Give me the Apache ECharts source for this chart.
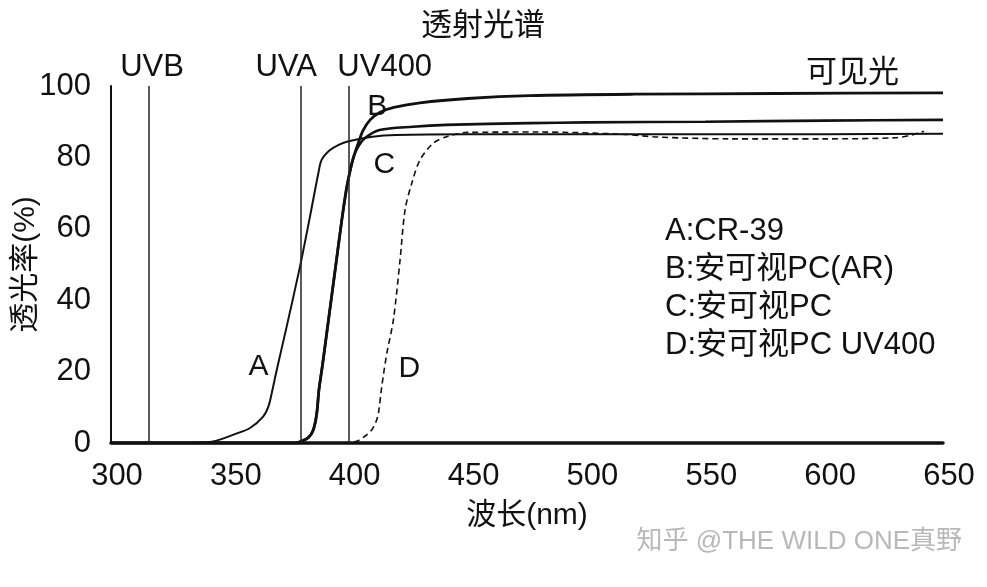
<!DOCTYPE html>
<html>
<head>
<meta charset="utf-8">
<script src="https://cdn.jsdelivr.net/npm/echarts@6/dist/echarts.min.js"></script>
<style>html,body{margin:0;padding:0;background:#fff;}#c{width:987px;height:587px;}</style>
</head>
<body>
<div id="c"></div>
<script>
// ---- data ----
const xTicks = [300, 350, 400, 450, 500, 550, 600, 650];
const yTicks = [0, 20, 40, 60, 80, 100];
const seriesNames = ['A:CR-39', 'B:安可视PC(AR)', 'C:安可视PC', 'D:安可视PC UV400'];
const curveLetters = ['A', 'B', 'C', 'D'];
const uvNames = ['UVB', 'UVA', 'UV400'];
const uvWavelengths = [316, 380, 400];

const aNm = [300, 335, 343, 353, 358.5, 364, 366.2, 367.6, 369.7, 373.9, 379.5, 383.7, 387.2, 388.6, 392, 396, 400, 410, 420, 450, 500, 550, 600, 650];
const aT  = [0,   0,   0.4, 2.7, 4.2,   7.4, 10.2,  13.9,  20.4,  32.6,  49.4,  63.4,  75.5,  79.3,  82, 83.6, 84.5, 85.8, 86.3, 86.5, 86.5, 86.5, 86.5, 86.6];

const bNm = [300, 378, 380, 383, 385, 386.5, 387.5, 389, 391, 393, 395, 397, 399, 400.5, 402, 404, 406, 409, 413, 419, 430, 450, 476, 520, 580, 650];
const bT  = [0,   0,   0.5, 1.5, 3.5, 8,     15,    22,  32,  42,  52,  62,  71,  76,    80,  84,  87.5, 90.5, 92.6, 94, 95.3, 96.5, 97.3, 97.7, 97.9, 98.1];

const cNm = [300, 378, 380, 383, 385, 386.5, 387.5, 389, 391, 393, 395, 397, 399, 400.5, 402, 404, 407, 413, 427, 441, 476, 500, 550, 600, 650];
const cT  = [0,   0,   0.5, 1.5, 3.5, 8,     15,    22,  32,  42,  52,  62,  71,  76,    80,  83,  85.5, 87.7, 88.6, 89.1, 89.6, 89.8, 90, 90.3, 90.5];

const dNm = [398, 403.4, 407, 409.6, 411.5, 412.5, 413.9, 416, 418.8, 421.6, 423.7, 426.5, 430, 435.6, 441.2, 450, 480, 515, 530, 560, 600, 630, 637, 642];
const dT  = [0,   0.5,   2,   3.6,   6,     8.3,   15.8,  25,  34.5,  51.3,  65.3,  72.7,  79.3, 84,   85.8,  87,  87.1, 86.5, 85.7, 85.2, 85.2, 85.5, 86.3, 87.3];

const letterAt = [[362, 21.3], [412, 94.1], [415, 77.9], [425.5, 20.7]];

// ---- build ----
const zip = (xs, ys) => xs.map((x, i) => [x, ys[i]]);
const FONT = '"Liberation Sans", Arial, "Noto Sans CJK SC", sans-serif';
const INK = '#111';

function letterMark(i) {
  return {
    symbol: 'circle', symbolSize: 0, silent: true,
    label: { show: true, position: 'inside', formatter: curveLetters[i], fontSize: 30, color: INK, fontFamily: FONT },
    data: [{ coord: letterAt[i] }]
  };
}

const lineWidths = [2, 2.8, 2.6, 1.6];
const dataSets = [zip(aNm, aT), zip(bNm, bT), zip(cNm, cT), zip(dNm, dT)];
const uvPad = [[0, 0, 0, 6], [0, 30, 0, 0], [0, 0, 0, 72]];

const series = dataSets.map((d, i) => ({
  name: seriesNames[i],
  type: 'line',
  data: d,
  smooth: 0.3,
  showSymbol: false,
  symbol: 'none',
  lineStyle: { color: INK, width: lineWidths[i], type: i === 3 ? [6, 4] : 'solid' },
  itemStyle: { color: INK },
  markPoint: letterMark(i),
  z: 3
}));

series[0].markLine = {
  silent: true, symbol: ['none', 'none'],
  lineStyle: { color: '#222', width: 1.5, type: 'solid' },
  label: { show: true, position: 'end', formatter: '{b}', fontSize: 31, color: INK, fontFamily: FONT, distance: 3 },
  data: uvWavelengths.map((w, i) => ({ xAxis: w, name: uvNames[i], label: { padding: uvPad[i] } }))
};

const chart = echarts.init(document.getElementById('c'), null, { renderer: 'canvas' });
chart.setOption({
  animation: false,
  backgroundColor: '#fff',
  title: {
    text: '透射光谱', left: 416, top: 6,
    textStyle: { fontSize: 31, fontWeight: 'normal', color: INK, fontFamily: FONT }
  },
  legend: {
    orient: 'vertical', left: 660, top: 216, itemGap: 7, padding: 0,
    icon: 'none', itemWidth: 0, itemHeight: 0, selectedMode: false,
    textStyle: { fontSize: 31, color: INK, fontFamily: FONT },
    data: seriesNames
  },
  grid: { left: 111, right: 44, top: 86, bottom: 144, containLabel: false, outerBoundsMode: 'none' },
  xAxis: {
    type: 'value', min: xTicks[0], max: xTicks[xTicks.length - 1], interval: 50,
    name: '波长(nm)', nameLocation: 'middle', nameGap: 58, nameMoveOverlap: false,
    nameTextStyle: { fontSize: 30, color: INK, fontFamily: FONT },
    axisLine: { show: true, lineStyle: { color: INK, width: 3.5 } },
    axisTick: { show: false }, splitLine: { show: false },
    axisLabel: { fontSize: 31, color: INK, fontFamily: FONT, margin: 18, padding: [0, 0, 0, 12] }
  },
  yAxis: {
    type: 'value', min: yTicks[0], max: yTicks[yTicks.length - 1], interval: 20,
    name: '透光率(%)', nameLocation: 'middle', nameGap: 70, nameRotate: 90, nameMoveOverlap: false,
    nameTextStyle: { fontSize: 30, color: INK, fontFamily: FONT },
    axisLine: { show: true, lineStyle: { color: INK, width: 2 } },
    axisTick: { show: false }, splitLine: { show: false },
    axisLabel: { fontSize: 31, color: INK, fontFamily: FONT, margin: 20 }
  },
  graphic: [
    { type: 'text', left: 806, top: 58, silent: true,
      style: { text: '可见光', font: '31px ' + FONT, fill: INK } },
    { type: 'text', right: 25, top: 529, silent: true,
      style: { text: '知乎 @THE WILD ONE真野', font: '26px ' + FONT, fill: '#b8b8b8' } }
  ],
  series: series
});
</script>
</body>
</html>
